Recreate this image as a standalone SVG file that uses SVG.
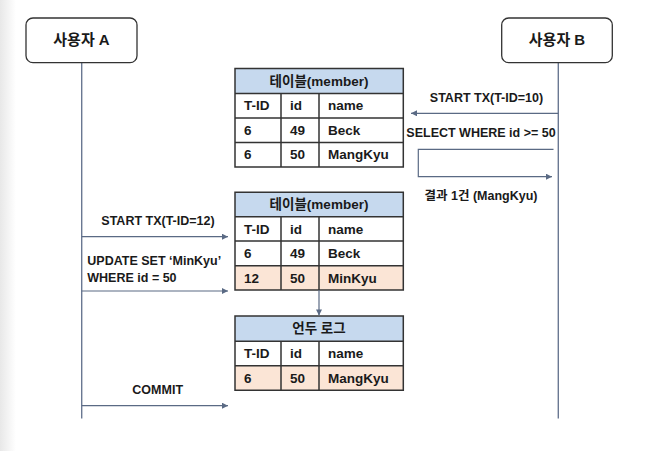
<svg xmlns="http://www.w3.org/2000/svg" width="647" height="451" viewBox="0 0 647 451">
<style>
text{font-family:"Liberation Sans","Noto Sans CJK KR",Arial,sans-serif;font-weight:bold;fill:#1a1a1a}
.actor{fill:#fff;stroke:#333;stroke-width:1.3}
.life{stroke:#6a7892;stroke-width:1.4;fill:none}
.msg{stroke:#5a6a84;stroke-width:1.2;fill:none}
.grid{fill:none;stroke:#333;stroke-width:1.5}
.hd{fill:#c6d9ee}
.pe{fill:#fbe5d6}
.wh{fill:#fff}
.t15{font-size:15px}
.t13{font-size:13.5px}
.t12{font-size:12.5px}
</style>
<defs>
<marker id="ah" viewBox="0 0 10 10" refX="10" refY="5" markerWidth="8" markerHeight="6" markerUnits="userSpaceOnUse" orient="auto">
<path d="M0,0 L10,5 L0,10 z" fill="#5a6a84"/>
</marker>
<linearGradient id="edge" x1="0" y1="0" x2="1" y2="0">
<stop offset="0" stop-color="#e8e8e8"/>
<stop offset="1" stop-color="#ffffff"/>
</linearGradient>
</defs>
<rect x="0" y="0" width="647" height="451" fill="#fff"/>
<rect x="0" y="0" width="16" height="451" fill="url(#edge)"/>

<g id="lifelines">
<line class="life" x1="81.7" y1="62.7" x2="81.7" y2="418.5"/>
<line class="life" x1="558.3" y1="62.7" x2="558.3" y2="418.5"/>
</g>

<g id="actorA">
<rect class="actor" x="26" y="18" width="111" height="44.7" rx="7"/>
<text class="t15" x="81.5" y="45" text-anchor="middle">사용자 A</text>
</g>
<g id="actorB">
<rect class="actor" x="501.7" y="18" width="110.6" height="44.7" rx="7"/>
<text class="t15" x="557" y="45" text-anchor="middle">사용자 B</text>
</g>

<g id="table1">
<rect class="hd" x="235" y="68.5" width="168.3" height="25"/>
<rect class="wh" x="235" y="93.5" width="168.3" height="73.5"/>
<path class="grid" d="M235,68.5H403.3V167H235Z M235,93.5H403.3 M235,118H403.3 M235,142.5H403.3 M281,93.5V167 M319,93.5V167"/>
<text class="t13" x="319" y="85.5" text-anchor="middle">테이블(member)</text>
<text class="t13" x="244" y="110.3">T-ID</text>
<text class="t13" x="290" y="110.3">id</text>
<text class="t13" x="328" y="110.3">name</text>
<text class="t13" x="244" y="134.8">6</text>
<text class="t13" x="290" y="134.8">49</text>
<text class="t13" x="328" y="134.8">Beck</text>
<text class="t13" x="244" y="159.3">6</text>
<text class="t13" x="290" y="159.3">50</text>
<text class="t13" x="328" y="159.3">MangKyu</text>
</g>

<g id="table2">
<rect class="hd" x="235" y="192.3" width="168.3" height="24.4"/>
<rect class="wh" x="235" y="216.7" width="168.3" height="49"/>
<rect class="pe" x="235" y="265.7" width="168.3" height="24.3"/>
<path class="grid" d="M235,192.3H403.3V290H235Z M235,216.7H403.3 M235,241H403.3 M235,265.7H403.3 M281,216.7V290 M319,216.7V290"/>
<text class="t13" x="319" y="209.2" text-anchor="middle">테이블(member)</text>
<text class="t13" x="244" y="233.5">T-ID</text>
<text class="t13" x="290" y="233.5">id</text>
<text class="t13" x="328" y="233.5">name</text>
<text class="t13" x="244" y="258">6</text>
<text class="t13" x="290" y="258">49</text>
<text class="t13" x="328" y="258">Beck</text>
<text class="t13" x="244" y="282.5">12</text>
<text class="t13" x="290" y="282.5">50</text>
<text class="t13" x="328" y="282.5">MinKyu</text>
</g>

<g id="undolog">
<rect class="hd" x="235" y="316" width="168.3" height="25.3"/>
<rect class="wh" x="235" y="341.3" width="168.3" height="24.4"/>
<rect class="pe" x="235" y="365.7" width="168.3" height="24.6"/>
<path class="grid" d="M235,316H403.3V390.3H235Z M235,341.3H403.3 M235,365.7H403.3 M281,341.3V390.3 M319,341.3V390.3"/>
<text class="t13" x="319" y="333.3" text-anchor="middle">언두 로그</text>
<text class="t13" x="244" y="358">T-ID</text>
<text class="t13" x="290" y="358">id</text>
<text class="t13" x="328" y="358">name</text>
<text class="t13" x="244" y="382.5">6</text>
<text class="t13" x="290" y="382.5">50</text>
<text class="t13" x="328" y="382.5">MangKyu</text>
</g>

<g id="connectors">
<line class="msg" x1="558.3" y1="113.3" x2="411" y2="113.3" marker-end="url(#ah)"/>
<path class="msg" d="M553.5,149.3H418.3V176.7H552" marker-end="url(#ah)"/>
<line class="msg" x1="81.7" y1="236.7" x2="228" y2="236.7" marker-end="url(#ah)"/>
<line class="msg" x1="81.7" y1="291" x2="228" y2="291" marker-end="url(#ah)"/>
<line class="msg" x1="319" y1="290" x2="319" y2="315.5" marker-end="url(#ah)"/>
<line class="msg" x1="81.7" y1="405.7" x2="228" y2="405.7" marker-end="url(#ah)"/>
</g>

<g id="labels">
<text class="t12" x="486.5" y="101.5" text-anchor="middle">START TX(T-ID=10)</text>
<text class="t12" x="481" y="137.3" text-anchor="middle">SELECT WHERE id &gt;= 50</text>
<text class="t12" x="481" y="199.5" text-anchor="middle">결과 1건 (MangKyu)</text>
<text class="t12" x="158" y="224.5" text-anchor="middle">START TX(T-ID=12)</text>
<text class="t12" x="87.3" y="264.5">UPDATE SET ‘MinKyu’</text>
<text class="t12" x="87.3" y="282">WHERE id = 50</text>
<text class="t12" x="157.7" y="394" text-anchor="middle">COMMIT</text>
</g>
</svg>
